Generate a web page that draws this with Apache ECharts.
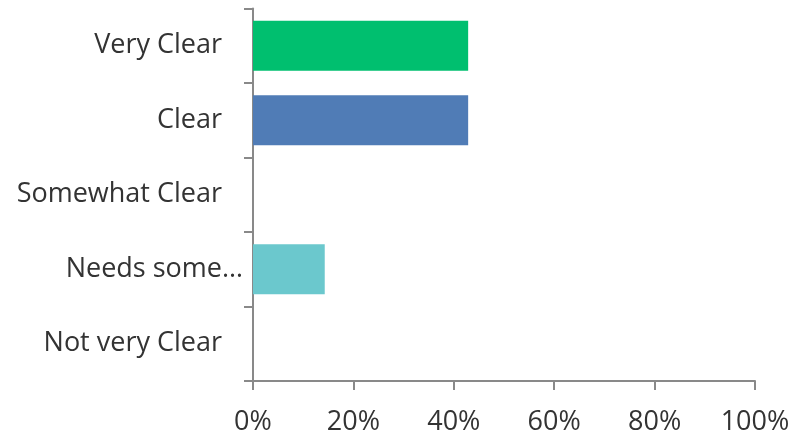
<!DOCTYPE html>
<html><head><meta charset="utf-8">
<script src="https://cdn.jsdelivr.net/npm/echarts@6/dist/echarts.min.js"></script>
<style>html,body{margin:0;padding:0;background:#fff}#c{width:796px;height:440px}</style>
</head><body><div id="c"></div>
<script>
const categories = ['Very Clear', 'Clear', 'Somewhat Clear', 'Needs some…', 'Not very Clear'];
const values = [42.86, 42.86, 0, 14.29, 0];
const barColors = ['#00BF6F', '#507CB6', '#8E8E8E', '#6BC8CD', '#A0A0A0'];
const xTicks = [0, 20, 40, 60, 80, 100];

const chart = echarts.init(document.getElementById('c'), null, {renderer: 'canvas'});
const axisColor = '#898989';
const font = '"Open Sans", sans-serif';
const textColor = '#333333';
const fs = 27;
chart.setOption({
  animation: false,
  grid: {left: 253, right: 41, top: 8.5, bottom: 59, containLabel: false},
  xAxis: {
    type: 'value', min: xTicks[0], max: xTicks[xTicks.length - 1], interval: 20,
    axisLine: {show: true, lineStyle: {color: axisColor, width: 2}},
    axisTick: {show: true, length: 9, lineStyle: {color: axisColor, width: 2}},
    splitLine: {show: false},
    axisLabel: {formatter: v => v + '%', color: textColor, fontSize: fs, fontFamily: font, margin: 28}
  },
  yAxis: {
    type: 'category', data: categories, inverse: true,
    axisLine: {show: true, lineStyle: {color: axisColor, width: 2}},
    axisTick: {show: true, length: 9, alignWithLabel: false, lineStyle: {color: axisColor, width: 2}},
    axisLabel: {
      color: textColor, fontSize: fs, fontFamily: font, margin: 10,
      formatter: v => v.endsWith('…') ? '{n|' + v + '}' : '{p|' + v + '}',
      rich: {
        p: {padding: [0, 21, 0, 0], fontSize: fs, fontFamily: font, color: textColor},
        n: {fontSize: fs, fontFamily: font, color: textColor}
      }
    }
  },
  series: [{
    type: 'bar', barCategoryGap: '33%',
    data: values.map((v, i) => ({value: v, itemStyle: {color: barColors[i]}}))
  }]
});
</script></body></html>
